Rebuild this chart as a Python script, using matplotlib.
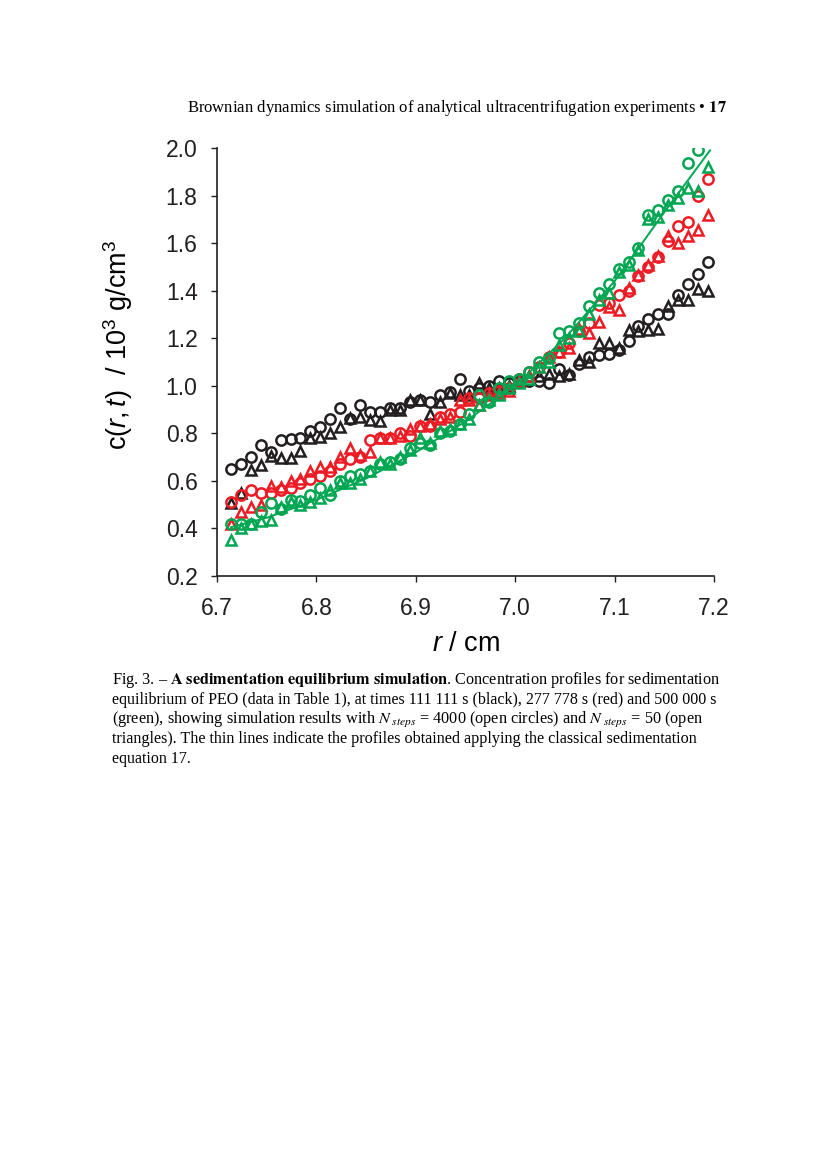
import numpy as np
import matplotlib
matplotlib.use("Agg")
import matplotlib.pyplot as plt

plt.rcParams['font.family'] = ['Liberation Sans', 'DejaVu Sans']
plt.rcParams['mathtext.fontset'] = 'custom'
plt.rcParams['mathtext.rm'] = 'Liberation Sans'
plt.rcParams['mathtext.it'] = 'Liberation Sans:italic'

# radial positions (cm), one point every 0.01 cm
r = np.round(6.714 + 0.01 * np.arange(49), 3)

# t = 111 111 s (black)
black_circ = [0.65, 0.67, 0.70, 0.75, 0.72, 0.77, 0.775, 0.78, 0.81, 0.825,
              0.86, 0.905, 0.86, 0.92, 0.89, 0.89, 0.905, 0.905, 0.93, 0.94,
              0.93, 0.96, 0.975, 1.03, 0.98, 0.99, 1.00, 1.02, 1.01, 1.02,
              1.02, 1.02, 1.01, 1.07, 1.045, 1.09, 1.12, 1.13, 1.135, 1.15,
              1.19, 1.25, 1.28, 1.30, 1.30, 1.38, 1.43, 1.47, 1.52]
black_tri = [0.505, 0.55, 0.645, 0.667, 0.705, 0.695, 0.695, 0.727, 0.78, 0.786,
             0.80, 0.825, 0.863, 0.87, 0.856, 0.85, 0.90, 0.90, 0.94, 0.94,
             0.88, 0.93, 0.97, 0.96, 0.96, 1.01, 0.99, 0.99, 1.00, 1.02,
             1.04, 1.04, 1.05, 1.04, 1.05, 1.11, 1.10, 1.18, 1.18, 1.16,
             1.235, 1.23, 1.235, 1.24, 1.335, 1.36, 1.36, 1.405, 1.40]

# t = 277 778 s (red)
red_circ = [0.51, 0.54, 0.56, 0.55, 0.55, 0.56, 0.57, 0.59, 0.61, 0.62,
            0.64, 0.67, 0.69, 0.70, 0.77, 0.78, 0.78, 0.80, 0.79, 0.83,
            0.83, 0.87, 0.88, 0.89, 0.95, 0.95, 0.97, 0.98, 0.99, 1.03,
            1.06, 1.08, 1.12, 1.14, 1.18, 1.23, 1.265, 1.34, 1.35, 1.38,
            1.40, 1.46, 1.50, 1.54, 1.61, 1.67, 1.69, 1.80, 1.87]
red_tri = [0.42, 0.47, 0.49, 0.50, 0.58, 0.575, 0.60, 0.61, 0.64, 0.66,
           0.66, 0.70, 0.74, 0.71, 0.72, 0.78, 0.78, 0.79, 0.82, 0.83,
           0.84, 0.86, 0.87, 0.94, 0.94, 0.92, 0.96, 0.97, 0.98, 1.02,
           1.04, 1.08, 1.12, 1.14, 1.16, 1.24, 1.22, 1.27, 1.33, 1.32,
           1.41, 1.465, 1.51, 1.545, 1.63, 1.60, 1.63, 1.655, 1.72]

# t = 500 000 s (green)
green_circ = [0.42, 0.42, 0.42, 0.47, 0.505, 0.48, 0.52, 0.515, 0.54, 0.57,
              0.54, 0.60, 0.62, 0.63, 0.64, 0.67, 0.68, 0.69, 0.74, 0.76,
              0.75, 0.80, 0.81, 0.84, 0.88, 0.96, 0.93, 0.99, 1.02, 1.03,
              1.06, 1.10, 1.115, 1.22, 1.23, 1.265, 1.335, 1.39, 1.43, 1.49,
              1.52, 1.58, 1.72, 1.74, 1.78, 1.82, 1.935, 1.99, 2.05]
green_tri = [0.35, 0.40, 0.42, 0.43, 0.435, 0.49, 0.51, 0.50, 0.51, 0.53,
             0.56, 0.59, 0.59, 0.61, 0.64, 0.68, 0.67, 0.70, 0.73, 0.78,
             0.76, 0.81, 0.82, 0.84, 0.86, 0.92, 0.94, 0.96, 0.99, 1.01,
             1.03, 1.08, 1.10, 1.17, 1.20, 1.23, 1.30, 1.36, 1.39, 1.48,
             1.51, 1.57, 1.70, 1.71, 1.76, 1.79, 1.83, 1.82, 1.92]

# classical sedimentation profile (thin line, green)
line_r = [6.714, 6.75, 6.80, 6.85, 6.90, 6.95, 7.00, 7.05, 7.10, 7.124, 7.15, 7.196]
line_c = [0.405, 0.445, 0.52, 0.61, 0.72, 0.85, 1.00, 1.20, 1.44, 1.578, 1.73, 1.99]

colors = {'black': '#231f20', 'red': '#ed1c24', 'green': '#00a651'}

fig = plt.figure(figsize=(8.27, 11.69), dpi=100)
ax = fig.add_axes([217 / 827, 1 - 576 / 1169, 497 / 827, 428 / 1169])

ms, mew = 7.4, 1.8
for circ, tri, col in [(black_circ, black_tri, colors['black']),
                       (red_circ, red_tri, colors['red']),
                       (green_circ, green_tri, colors['green'])]:
    ax.plot(r, tri, '^', ms=ms, mew=mew, mfc='none', mec=col, ls='none')
    ax.plot(r, circ, 'o', ms=ms, mew=mew, mfc='none', mec=col, ls='none')

ax.plot(line_r, line_c, '-', color=colors['green'], lw=1.4)

ax.set_xlim(6.7, 7.2)
ax.set_ylim(0.2, 2.0)
ax.set_xticks(np.arange(6.7, 7.21, 0.1))
ax.set_yticks(np.arange(0.2, 2.01, 0.2))
ax.set_xticklabels([f"{v:.1f}" for v in np.arange(6.7, 7.21, 0.1)])
ax.set_yticklabels([f"{v:.1f}" for v in np.arange(0.2, 2.01, 0.2)])
for s in ['top', 'right']:
    ax.spines[s].set_visible(False)
for s in ['left', 'bottom']:
    ax.spines[s].set_linewidth(1.2)
    ax.spines[s].set_color('#231f20')
ax.tick_params(axis='both', direction='out', length=4, width=1.0,
               labelsize=16.5, colors='#231f20')
ax.tick_params(axis='x', pad=11)
ax.tick_params(axis='y', pad=10)

ax.set_xlabel(r'$\mathit{r}$ / cm', fontsize=19.5, labelpad=8)
ax.set_ylabel(r'c($\mathit{r,t}$)  / 10$^3$ g/cm$^3$', fontsize=19.5)
ax.yaxis.set_label_coords(-0.165, 0.54)

serif = ['Liberation Serif', 'DejaVu Serif']
fig.text(727 / 827, 1 - 108 / 1169,
         r'Brownian dynamics simulation of analytical ultracentrifugation experiments • $\mathbf{17}$',
         ha='right', va='center', fontsize=12, family=serif, math_fontfamily='stix')

caption = [
    r'Fig. 3. – $\mathbf{A\ sedimentation\ equilibrium\ simulation}$. Concentration profiles for sedimentation',
    'equilibrium of PEO (data in Table 1), at times 111 111 s (black), 277 778 s (red) and 500 000 s',
    r'(green), showing simulation results with $N_{\ steps}$ = 4000 (open circles) and $N_{\ steps}$ = 50 (open',
    'triangles). The thin lines indicate the profiles obtained applying the classical sedimentation',
    'equation 17.',
]
cap_sizes = [11.7, 11.5, 11.7, 11.6, 11.5]
for k, line in enumerate(caption):
    fig.text(112 / 827, 1 - (680 + 19.8 * k) / 1169, line, ha='left', va='center',
             fontsize=cap_sizes[k], family=serif, math_fontfamily='stix')

fig.savefig('out.png', dpi=100)
